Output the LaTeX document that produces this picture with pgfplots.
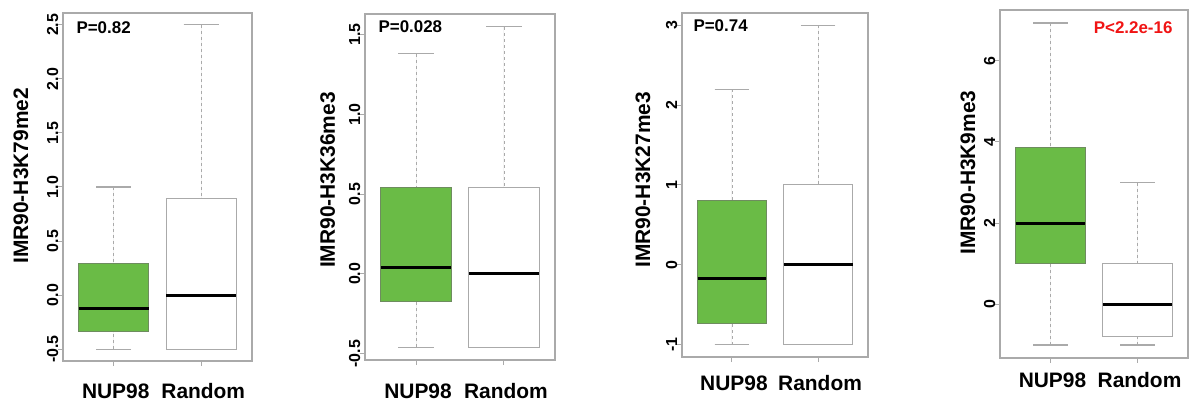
\documentclass[border=0pt]{standalone}
\usepackage{pgfplots}
\pgfplotsset{compat=1.18}
\usepgfplotslibrary{statistics}
\usepackage{fontspec}
\setmainfont{Liberation Sans}
\definecolor{boxgreen}{RGB}{106,187,70}
\definecolor{greenedge}{RGB}{110,140,95}
\definecolor{framegray}{RGB}{170,170,170}
\definecolor{whiskgray}{RGB}{170,170,170}
\definecolor{pred}{RGB}{240,20,20}

\tikzset{pfont/.style={font=\fontsize{17}{17}\selectfont\bfseries}}
\pgfplotsset{
  rbox/.style={
    scale only axis, anchor=south west,
    xmin=0.42, xmax=2.58,
    xtick={1,2}, xticklabels={NUP98,Random},
    axis line style={framegray, line width=1.3bp},
    tick style={framegray, line width=1bp},
    major tick length=5bp,
    tick align=outside,
    xtick pos=bottom, ytick pos=left,
    /pgf/number format/assume math mode=true,
    yticklabel style={rotate=90, anchor=base, font=\fontsize{16}{16}\selectfont\bfseries},
    yticklabel shift=0bp,
    xticklabel style={anchor=base, xshift=2bp, font=\fontsize{21}{21}\selectfont\bfseries},
    every axis y label/.style={rotate=90, anchor=base, font=\fontsize{21}{21}\selectfont\bfseries},
    boxplot/draw direction=y,
    boxplot/box extend=0.8,
    boxplot/whisker extend=0.4,
    boxplot/every median/.style={black, line width=3bp},
    boxplot/every box/.style={draw=framegray, line width=1bp},
    boxplot/draw/lower whisker/.code={%
      \draw[whiskgray, line width=0.9bp, dash pattern=on 3bp off 3bp]
        (boxplot box cs:\pgfplotsboxplotvalue{lower whisker},0.5) --
        (boxplot box cs:\pgfplotsboxplotvalue{lower quartile},0.5);
      \draw[whiskgray, line width=1.1bp]
        (boxplot whisker cs:\pgfplotsboxplotvalue{lower whisker},0) --
        (boxplot whisker cs:\pgfplotsboxplotvalue{lower whisker},1);
    },
    boxplot/draw/upper whisker/.code={%
      \draw[whiskgray, line width=0.9bp, dash pattern=on 3bp off 3bp]
        (boxplot box cs:\pgfplotsboxplotvalue{upper whisker},0.5) --
        (boxplot box cs:\pgfplotsboxplotvalue{upper quartile},0.5);
      \draw[whiskgray, line width=1.1bp]
        (boxplot whisker cs:\pgfplotsboxplotvalue{upper whisker},0) --
        (boxplot whisker cs:\pgfplotsboxplotvalue{upper whisker},1);
    },
  },
  greenbox/.style={fill=boxgreen, boxplot/every box/.style={draw=greenedge, line width=1bp}},
}

\begin{document}
\begin{tikzpicture}
\useasboundingbox (0,0) rectangle (1191bp,401bp);

% Panel 1
\begin{axis}[rbox, at={(63bp,40bp)}, width=189bp, height=348bp,
  ymin=-0.61, ymax=2.61, ytick={-0.5,0,0.5,1,1.5,2,2.5},
  yticklabel style={/pgf/number format/.cd, fixed, fixed zerofill, precision=1},
  xticklabel shift=32bp,
  ylabel={IMR90-H3K79me2}, ylabel style={at={(axis description cs:-0.184,0.532)}}]
\addplot[boxplot prepared={lower whisker=-0.5, lower quartile=-0.34, median=-0.12, upper quartile=0.29, upper whisker=1.0, draw position=1}, greenbox] coordinates {};
\addplot[boxplot prepared={lower whisker=-0.5, lower quartile=-0.5, median=0.0, upper quartile=0.89, upper whisker=2.5, draw position=2}, fill=white] coordinates {};
\node[pfont, anchor=base west] at (axis description cs:0.053,0.9425) {P=0.82};
\end{axis}

% Panel 2
\begin{axis}[rbox, at={(365bp,41bp)}, width=190bp, height=346bp,
  ymin=-0.54, ymax=1.63, ytick={-0.5,0,0.5,1,1.5},
  yticklabel style={/pgf/number format/.cd, fixed, fixed zerofill, precision=1},
  xticklabel shift=33bp,
  ylabel={IMR90-H3K36me3}, ylabel style={at={(axis description cs:-0.158,0.52)}}]
\addplot[boxplot prepared={lower whisker=-0.46, lower quartile=-0.17, median=0.04, upper quartile=0.54, upper whisker=1.38, draw position=1}, greenbox] coordinates {};
\addplot[boxplot prepared={lower whisker=-0.46, lower quartile=-0.46, median=0.0, upper quartile=0.54, upper whisker=1.55, draw position=2}, fill=white] coordinates {};
\node[pfont, anchor=base west] at (axis description cs:0.053,0.947) {P=0.028};
\end{axis}

% Panel 3
\begin{axis}[rbox, at={(682bp,44bp)}, width=186bp, height=344bp,
  ymin=-1.155, ymax=3.155, ytick={-1,0,1,2,3},
  xticklabel shift=28bp,
  ylabel={IMR90-H3K27me3}, ylabel style={at={(axis description cs:-0.172,0.515)}}]
\addplot[boxplot prepared={lower whisker=-1.0, lower quartile=-0.74, median=-0.17, upper quartile=0.8, upper whisker=2.2, draw position=1}, greenbox] coordinates {};
\addplot[boxplot prepared={lower whisker=-1.0, lower quartile=-1.0, median=0.0, upper quartile=1.0, upper whisker=3.0, draw position=2}, fill=white] coordinates {};
\node[pfont, anchor=base west] at (axis description cs:0.043,0.946) {P=0.74};
\end{axis}

% Panel 4
\begin{axis}[rbox, at={(1000bp,43bp)}, width=188bp, height=348bp,
  ymin=-1.32, ymax=7.25, ytick={0,2,4,6},
  xticklabel shift=25bp,
  ylabel={IMR90-H3K9me3}, ylabel style={at={(axis description cs:-0.133,0.533)}}]
\addplot[boxplot prepared={lower whisker=-1.0, lower quartile=1.0, median=2.0, upper quartile=3.87, upper whisker=6.93, draw position=1}, greenbox] coordinates {};
\addplot[boxplot prepared={lower whisker=-1.0, lower quartile=-0.8, median=0.0, upper quartile=1.0, upper whisker=3.0, draw position=2}, fill=white] coordinates {};
\node[pfont, anchor=base east, text=pred] at (axis description cs:0.936,0.933) {P<2.2e-16};
\end{axis}
\end{tikzpicture}
\end{document}
